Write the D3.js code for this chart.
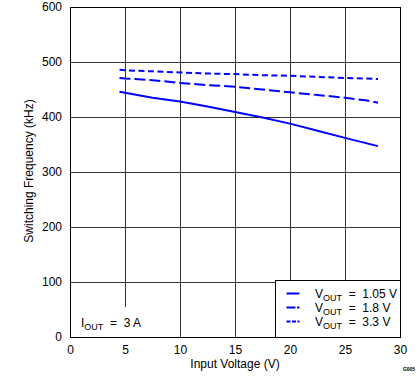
<!DOCTYPE html>
<html><head><meta charset="utf-8">
<script src="https://cdn.jsdelivr.net/npm/d3@7"></script>
<style>
body{margin:0;background:#fff;}
svg{display:block;font-family:Arial,"Liberation Sans",sans-serif;}
text{white-space:pre;}
</style></head>
<body><svg id="c" width="419" height="382"></svg>
<script>
const xTicks = [0,5,10,15,20,25,30];
const yTicks = [0,100,200,300,400,500,600];
const xVin = [4.5,5,7.5,10,12.5,15,17.5,20,22.5,25,27,28];
const fV105 = [446,444,435,428,419,409,399,388,375,362,352,347];
const fV18  = [471,470,467,462,458,455,450,445,440,435,430,426];
const fV33  = [486,485,483,481,479,478,476,475,473,471,470,469];
const seriesNames = ["1.05 V","1.8 V","3.3 V"];

const svg = d3.select("#c");
const m = {l:70, r:400, t:7, b:337};
const x = d3.scaleLinear().domain([0,30]).range([m.l,m.r]);
const y = d3.scaleLinear().domain([0,600]).range([m.b,m.t]);

const g = svg.append("g");
const legX = 275, legY = 280;
const labBoxTop = 307;
xTicks.slice(1,-1).forEach(t=>{
  let y1 = m.b;
  if (x(t) > legX) y1 = legY;
  g.append("line").attr("x1",x(t)).attr("x2",x(t)).attr("y1",m.t).attr("y2",y1)
   .attr("stroke","#333").attr("stroke-width",1).attr("shape-rendering","crispEdges");
});
yTicks.slice(1,-1).forEach(t=>{
  let x2 = m.r;
  if (y(t) > legY) x2 = legX;
  g.append("line").attr("x1",m.l).attr("x2",x2).attr("y1",y(t)).attr("y2",y(t))
   .attr("stroke","#333").attr("stroke-width",1).attr("shape-rendering","crispEdges");
});

svg.append("rect").attr("x",m.l+1).attr("y",labBoxTop).attr("width",75).attr("height",m.b-labBoxTop).attr("fill","#fff");
const iot = svg.append("text").attr("x",81).attr("y",327).attr("font-size",12).attr("fill","#000");
iot.append("tspan").text("I");
iot.append("tspan").attr("font-size",9).attr("dy",3).text("OUT");
iot.append("tspan").attr("dy",-3).text("  =  3 A");

const line = d3.line().x(d=>x(d[0])).y(d=>y(d[1]));
const series = [fV105,fV18,fV33];
const dashes = [null,"11,4","6,3.5"];
const legDashes = [null,"9,1.5,2.5,0","4,1.5"];
series.forEach((s,i)=>{
  svg.append("path").datum(xVin.map((v,j)=>[v,s[j]])).attr("d",line)
    .attr("fill","none").attr("stroke","#0000ff").attr("stroke-width",2)
    .attr("stroke-dasharray",dashes[i]);
});

svg.append("rect").attr("x",m.l).attr("y",m.t).attr("width",m.r-m.l).attr("height",m.b-m.t)
  .attr("fill","none").attr("stroke","#000").attr("stroke-width",1).attr("shape-rendering","crispEdges");

svg.append("rect").attr("x",legX).attr("y",legY).attr("width",m.r-legX).attr("height",m.b-legY)
  .attr("fill","#fff").attr("stroke","#000").attr("stroke-width",1).attr("shape-rendering","crispEdges");
seriesNames.forEach((n,i)=>{
  const ly = 293.5 + i*14;
  svg.append("line").attr("x1",286.5).attr("x2",299.5).attr("y1",ly).attr("y2",ly)
    .attr("stroke","#0000ff").attr("stroke-width",2).attr("stroke-dasharray",legDashes[i]);
  const t = svg.append("text").attr("x",315).attr("y",ly+4).attr("font-size",12);
  t.append("tspan").text("V");
  t.append("tspan").attr("font-size",9).attr("dy",3).text("OUT");
  t.append("tspan").attr("dy",-3).text("  =  " + n);
});

const xa = svg.append("g").attr("transform",`translate(0,${m.b})`)
  .call(d3.axisBottom(x).tickValues(xTicks).tickSize(0).tickPadding(8));
const ya = svg.append("g").attr("transform",`translate(${m.l},0)`)
  .call(d3.axisLeft(y).tickValues(yTicks).tickSize(0).tickPadding(8));
[xa,ya].forEach(a=>{a.select(".domain").remove(); a.selectAll("text").attr("font-size",12).attr("font-family","Arial,'Liberation Sans',sans-serif").attr("fill","#000");});

svg.append("text").attr("x",235).attr("y",368).attr("text-anchor","middle").attr("font-size",12).text("Input Voltage (V)");
svg.append("text").attr("transform","translate(33,171) rotate(-90)").attr("text-anchor","middle").attr("font-size",12).text("Switching Frequency (kHz)");
svg.append("text").attr("x",409).attr("y",371).attr("text-anchor","middle").attr("font-size",5).attr("font-weight","bold").text("G005");
</script></body></html>
